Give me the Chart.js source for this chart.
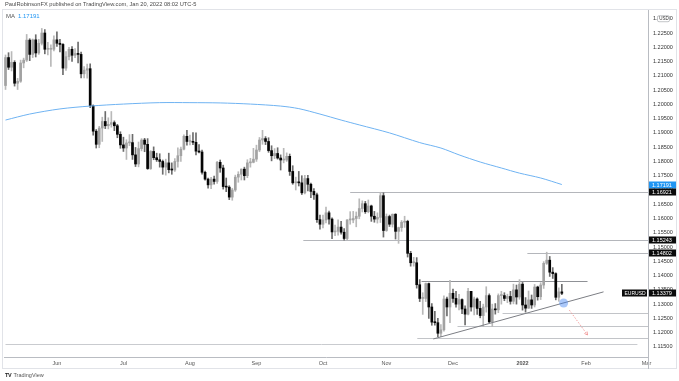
<!DOCTYPE html>
<html><head><meta charset="utf-8">
<script src="https://cdn.jsdelivr.net/npm/chart.js@4.4.0/dist/chart.umd.min.js"></script>
<style>
html,body{margin:0;padding:0;background:#fff;}
#wrap{position:relative;width:679px;height:381px;overflow:hidden;font-family:"Liberation Sans",Arial,sans-serif;}
#c{position:absolute;left:0;top:0;}
.t{position:absolute;white-space:nowrap;line-height:1;}
#hdr{left:5px;top:2px;font-size:5.7px;color:#4a4a4a;}
#leg{left:6px;top:13px;font-size:6px;color:#555;}
#leg b{font-weight:normal;color:#2196f3;margin-left:3px;}
#logo{left:5px;top:373px;font-size:5.5px;color:#555;}
#logo b{font-weight:bold;color:#222;margin-right:2px;letter-spacing:-0.3px;}
</style></head>
<body><div id="wrap">
<canvas id="c" width="679" height="381"></canvas>
<div class="t" id="hdr">PaulRobinsonFX published on TradingView.com, Jan 20, 2022 08:02 UTC-5</div>
<div class="t" id="leg">MA<b>1.17191</b></div>
<div class="t" id="logo"><b>TV</b>TradingView</div>
</div>
<script>
// ---- data (EURUSD daily, May 7 2021 - Jan 20 2022) ----
const opens = [1.2066,1.2164,1.2130,1.2147,1.2074,1.2081,1.2145,1.2155,1.2225,1.2175,1.2226,1.2180,1.2214,1.2250,1.2193,1.2193,1.2193,1.2226,1.2214,1.2210,1.2127,1.2167,1.2193,1.2172,1.2178,1.2175,1.2107,1.2120,1.2125,1.1995,1.1906,1.1860,1.1917,1.1940,1.1925,1.1930,1.1936,1.1925,1.1895,1.1858,1.1847,1.1865,1.1866,1.1823,1.1791,1.1845,1.1875,1.1860,1.1775,1.1835,1.1813,1.1806,1.1800,1.1780,1.1795,1.1771,1.1770,1.1800,1.1820,1.1843,1.1888,1.1870,1.1870,1.1867,1.1836,1.1833,1.1762,1.1738,1.1718,1.1738,1.1730,1.1797,1.1777,1.1712,1.1710,1.1675,1.1700,1.1745,1.1755,1.1773,1.1750,1.1795,1.1797,1.1808,1.1840,1.1875,1.1880,1.1870,1.1838,1.1820,1.1828,1.1812,1.1805,1.1805,1.1818,1.1765,1.1725,1.1727,1.1725,1.1690,1.1740,1.1720,1.1695,1.1683,1.1596,1.1580,1.1595,1.1620,1.1598,1.1553,1.1555,1.1570,1.1552,1.1530,1.1595,1.1595,1.1600,1.1608,1.1635,1.1652,1.1624,1.1644,1.1608,1.1598,1.1604,1.1680,1.1558,1.1607,1.1580,1.1615,1.1555,1.1568,1.1587,1.1590,1.1478,1.1445,1.1445,1.1368,1.1320,1.1320,1.1372,1.1290,1.1237,1.1235,1.1198,1.1210,1.1318,1.1290,1.1338,1.1320,1.1300,1.1316,1.1283,1.1265,1.1345,1.1290,1.1318,1.1285,1.1260,1.1290,1.1330,1.1238,1.1283,1.1280,1.1330,1.1330,1.1320,1.1327,1.1310,1.1350,1.1325,1.1370,1.1297,1.1286,1.1315,1.1297,1.1360,1.1326,1.1367,1.1443,1.1454,1.1412,1.1407,1.1324,1.1343];
const highs = [1.2173,1.2181,1.2185,1.2153,1.2091,1.2155,1.2162,1.2245,1.2230,1.2229,1.2244,1.2228,1.2266,1.2262,1.2217,1.2209,1.2240,1.2254,1.2228,1.2213,1.2185,1.2200,1.2202,1.2195,1.2218,1.2183,1.2132,1.2141,1.2142,1.1998,1.1912,1.1923,1.1955,1.1975,1.1953,1.1975,1.1942,1.1930,1.1904,1.1885,1.1876,1.1894,1.1895,1.1849,1.1868,1.1880,1.1881,1.1880,1.1838,1.1851,1.1829,1.1827,1.1805,1.1808,1.1829,1.1795,1.1810,1.1848,1.1850,1.1893,1.1909,1.1892,1.1901,1.1900,1.1859,1.1840,1.1766,1.1742,1.1744,1.1749,1.1800,1.1805,1.1787,1.1742,1.1715,1.1706,1.1752,1.1764,1.1774,1.1780,1.1806,1.1811,1.1846,1.1857,1.1884,1.1909,1.1887,1.1883,1.1855,1.1845,1.1848,1.1823,1.1846,1.1830,1.1826,1.1785,1.1745,1.1765,1.1750,1.1751,1.1751,1.1724,1.1705,1.1689,1.1612,1.1612,1.1640,1.1626,1.1602,1.1577,1.1595,1.1590,1.1565,1.1596,1.1624,1.1625,1.1623,1.1669,1.1662,1.1660,1.1665,1.1647,1.1625,1.1620,1.1692,1.1690,1.1616,1.1612,1.1616,1.1617,1.1570,1.1593,1.1608,1.1594,1.1485,1.1464,1.1463,1.1386,1.1340,1.1374,1.1374,1.1302,1.1275,1.1250,1.1228,1.1329,1.1325,1.1383,1.1353,1.1345,1.1334,1.1319,1.1294,1.1355,1.1345,1.1325,1.1322,1.1310,1.1300,1.1361,1.1336,1.1300,1.1302,1.1336,1.1345,1.1340,1.1335,1.1345,1.1370,1.1367,1.1386,1.1376,1.1323,1.1346,1.1332,1.1369,1.1363,1.1375,1.1449,1.1482,1.1467,1.1428,1.1410,1.1357,1.1369];
const lows = [1.2052,1.2122,1.2117,1.2064,1.2052,1.2077,1.2128,1.2150,1.2153,1.2164,1.2166,1.2175,1.2208,1.2177,1.2173,1.2133,1.2187,1.2203,1.2184,1.2104,1.2119,1.2156,1.2150,1.2164,1.2145,1.2093,1.2093,1.2092,1.1988,1.1892,1.1847,1.1848,1.1870,1.1915,1.1914,1.1920,1.1908,1.1883,1.1846,1.1835,1.1807,1.1855,1.1807,1.1782,1.1781,1.1837,1.1834,1.1772,1.1772,1.1806,1.1800,1.1780,1.1755,1.1752,1.1760,1.1755,1.1765,1.1780,1.1800,1.1840,1.1857,1.1858,1.1859,1.1823,1.1830,1.1755,1.1734,1.1706,1.1705,1.1720,1.1723,1.1762,1.1703,1.1694,1.1666,1.1664,1.1695,1.1727,1.1735,1.1735,1.1743,1.1780,1.1795,1.1800,1.1834,1.1860,1.1859,1.1832,1.1802,1.1810,1.1808,1.1770,1.1795,1.1800,1.1751,1.1720,1.1700,1.1714,1.1684,1.1686,1.1697,1.1673,1.1667,1.1586,1.1563,1.1567,1.1585,1.1580,1.1529,1.1540,1.1542,1.1545,1.1524,1.1525,1.1580,1.1585,1.1571,1.1599,1.1623,1.1618,1.1620,1.1590,1.1587,1.1584,1.1586,1.1535,1.1555,1.1572,1.1570,1.1528,1.1513,1.1555,1.1569,1.1465,1.1433,1.1433,1.1356,1.1309,1.1264,1.1309,1.1250,1.1226,1.1226,1.1186,1.1186,1.1205,1.1259,1.1235,1.1306,1.1289,1.1280,1.1267,1.1227,1.1262,1.1275,1.1262,1.1264,1.1252,1.1222,1.1272,1.1235,1.1222,1.1265,1.1270,1.1300,1.1312,1.1305,1.1300,1.1301,1.1300,1.1317,1.1279,1.1272,1.1285,1.1285,1.1290,1.1314,1.1316,1.1355,1.1439,1.1397,1.1390,1.1315,1.1310,1.1333];
const closes = [1.2164,1.2130,1.2147,1.2074,1.2081,1.2145,1.2155,1.2225,1.2175,1.2226,1.2180,1.2214,1.2250,1.2193,1.2193,1.2193,1.2226,1.2214,1.2210,1.2127,1.2167,1.2193,1.2172,1.2178,1.2175,1.2107,1.2120,1.2125,1.1995,1.1906,1.1860,1.1917,1.1940,1.1925,1.1930,1.1936,1.1925,1.1895,1.1858,1.1847,1.1865,1.1866,1.1823,1.1791,1.1845,1.1875,1.1860,1.1775,1.1835,1.1813,1.1806,1.1800,1.1780,1.1795,1.1771,1.1770,1.1800,1.1820,1.1843,1.1888,1.1870,1.1870,1.1867,1.1836,1.1833,1.1762,1.1738,1.1718,1.1738,1.1730,1.1797,1.1777,1.1712,1.1710,1.1675,1.1700,1.1745,1.1755,1.1773,1.1750,1.1795,1.1797,1.1808,1.1840,1.1875,1.1880,1.1870,1.1838,1.1820,1.1828,1.1812,1.1805,1.1805,1.1818,1.1765,1.1725,1.1727,1.1725,1.1690,1.1740,1.1720,1.1695,1.1683,1.1596,1.1580,1.1595,1.1620,1.1598,1.1553,1.1555,1.1570,1.1552,1.1530,1.1595,1.1595,1.1600,1.1608,1.1635,1.1652,1.1624,1.1644,1.1608,1.1598,1.1604,1.1680,1.1558,1.1607,1.1580,1.1615,1.1555,1.1568,1.1587,1.1590,1.1478,1.1445,1.1445,1.1368,1.1320,1.1320,1.1372,1.1290,1.1237,1.1235,1.1198,1.1210,1.1318,1.1290,1.1338,1.1320,1.1300,1.1316,1.1283,1.1265,1.1345,1.1290,1.1318,1.1285,1.1260,1.1290,1.1330,1.1238,1.1283,1.1280,1.1330,1.1330,1.1320,1.1327,1.1310,1.1350,1.1325,1.1370,1.1297,1.1286,1.1315,1.1297,1.1360,1.1326,1.1367,1.1443,1.1454,1.1412,1.1407,1.1324,1.1343,1.1338];

// 200-day moving average, read at selected sessions
const maIdx = [0,8,18,28,39,51,61,71,81,91,97,104,111,117,127,137,144,150,157,164,170,177,184];
const maVal = [1.1945,1.1966,1.1984,1.1994,1.2001,1.2006,1.2006,1.2005,1.2001,1.1994,1.1985,1.1966,1.1945,1.1928,1.1900,1.1866,1.1847,1.1823,1.1798,1.1777,1.1759,1.1742,1.17191];

// axis
const sessionCount = 213;           // trading days May 7 2021 .. Mar 1 2022
const monthTickIdx = [17,39,61,83,105,126,148,171,192,212];
const monthTickText = ['Jun','Jul','Aug','Sep','Oct','Nov','Dec','2022','Feb','Mar'];
const priceTicks = [1.115,1.12,1.125,1.13,1.135,1.14,1.145,1.15,1.155,1.16,1.165,1.17,1.175,1.18,1.185,1.19,1.195,1.20,1.205,1.21,1.215,1.22,1.225,1.23];

// drawings (data coordinates: session index, price)
const levelPrice = [1.16921,1.15243,1.14802,1.1381,1.1269,1.1223,1.1180,1.1160];
const levelFrom  = [114,98.5,172.6,137.6,164.4,149.5,136.2,0];
const levelTo    = [null,null,null,192.5,null,null,null,209];
const trendStart = [141.5,1.1178], trendEnd = [197.8,1.1343];
const circlePt = [184.6,1.1304];
const arrowStart = [186.5,1.1279], arrowEnd = [192.5,1.1192];
const axisMarkPrice = [1.17191,1.16921,1.15243,1.14802,1.13379];

// ---- build ----
const labels = [];
{ let d = new Date(Date.UTC(2021,4,7));
  while (labels.length < sessionCount) {
    const wd = d.getUTCDay();
    if (wd !== 0 && wd !== 6) labels.push(d.toISOString().slice(0,10));
    d.setUTCDate(d.getUTCDate()+1);
  } }
const tickMap = {}; monthTickIdx.forEach((i,k)=>tickMap[i]=monthTickText[k]);
const body = labels.map((_,i)=> i<closes.length ? [opens[i],closes[i]] : null);
const wick = labels.map((_,i)=> i<closes.length ? [lows[i],highs[i]] : null);
const up = i => closes[i] >= opens[i];
const ma = labels.map(()=>null); maIdx.forEach((i,k)=>ma[i]=maVal[k]);

const FONT = '"Liberation Sans", Arial, sans-serif';
const levelColor = ['#b4b6bb','#b4b6bb','#b4b6bb','#8f9196','#c2c4c8','#c2c4c8','#c2c4c8','#c9cbcf'];

const decor = {
  id:'decor',
  beforeDatasetsDraw(chart){
    const {ctx, chartArea:a, scales:{x,y}} = chart;
    ctx.save();
    ctx.beginPath(); ctx.rect(a.left,a.top,a.right-a.left,a.bottom-a.top); ctx.clip();
    levelPrice.forEach((p,k)=>{
      const x0 = x.getPixelForValue(levelFrom[k]);
      const x1 = levelTo[k]==null ? a.right : x.getPixelForValue(levelTo[k]);
      const py = Math.round(y.getPixelForValue(p))+0.5;
      ctx.strokeStyle = levelColor[k]; ctx.lineWidth = 1;
      ctx.beginPath(); ctx.moveTo(x0,py); ctx.lineTo(x1,py); ctx.stroke();
    });
    ctx.restore();
  },
  afterDatasetsDraw(chart){
    const {ctx, chartArea:a, scales:{x,y}} = chart;
    ctx.save();
    ctx.beginPath(); ctx.rect(a.left,a.top,a.right-a.left,a.bottom-a.top); ctx.clip();
    ctx.strokeStyle = '#7c7e84'; ctx.lineWidth = 1;
    ctx.beginPath();
    ctx.moveTo(x.getPixelForValue(trendStart[0]), y.getPixelForValue(trendStart[1]));
    ctx.lineTo(x.getPixelForValue(trendEnd[0]), y.getPixelForValue(trendEnd[1]));
    ctx.stroke();
    ctx.fillStyle = 'rgba(66,133,244,0.45)';
    ctx.beginPath();
    ctx.arc(x.getPixelForValue(circlePt[0]), y.getPixelForValue(circlePt[1]), 4.5, 0, Math.PI*2);
    ctx.fill();
    const ax0 = x.getPixelForValue(arrowStart[0]), ay0 = y.getPixelForValue(arrowStart[1]);
    const ax1 = x.getPixelForValue(arrowEnd[0]), ay1 = y.getPixelForValue(arrowEnd[1]);
    ctx.strokeStyle = '#f08a8a'; ctx.lineWidth = 0.8; ctx.setLineDash([1.5,1.5]);
    ctx.beginPath(); ctx.moveTo(ax0,ay0); ctx.lineTo(ax1,ay1); ctx.stroke();
    ctx.setLineDash([]);
    const ang = Math.atan2(ay1-ay0, ax1-ax0);
    ctx.beginPath();
    ctx.moveTo(ax1-3.5*Math.cos(ang-0.5), ay1-3.5*Math.sin(ang-0.5));
    ctx.lineTo(ax1,ay1);
    ctx.lineTo(ax1-3.5*Math.cos(ang+0.5), ay1-3.5*Math.sin(ang+0.5));
    ctx.stroke();
    ctx.restore();
  },
  afterDraw(chart){
    const {ctx, chartArea:a, scales:{y}} = chart;
    ctx.save();
    ctx.strokeStyle = '#e1e3e8'; ctx.lineWidth = 1;
    ctx.strokeRect(2.5, 9.5, 674, 359);
    ctx.strokeStyle = '#b9bcc2';
    ctx.beginPath(); ctx.moveTo(a.right+0.5, a.top); ctx.lineTo(a.right+0.5, 369); ctx.stroke();
    ctx.font = '5.5px '+FONT; ctx.textBaseline = 'middle'; ctx.textAlign = 'left';
    axisMarkPrice.forEach((p,k)=>{
      const py = Math.round(y.getPixelForValue(p));
      ctx.fillStyle = k===0 ? '#2196f3' : '#0b0b0b';
      ctx.fillRect(a.right+1, py-3.5, 27, 7);
      ctx.fillStyle = '#fff';
      ctx.fillText(p.toFixed(5), a.right+4, py+0.3);
    });
    const py = Math.round(y.getPixelForValue(axisMarkPrice[4]));
    ctx.fillStyle = '#0b0b0b'; ctx.fillRect(a.right-26, py-3.5, 25, 7);
    ctx.fillStyle = '#fff'; ctx.font = '5px '+FONT; ctx.fillText('EURUSD', a.right-23.5, py+0.3);
    const by = y.getPixelForValue(1.23);
    ctx.fillStyle = '#fff'; ctx.strokeStyle = '#9a9da3'; ctx.lineWidth = 0.6;
    ctx.beginPath(); ctx.roundRect(a.right+9.5, by-3, 12, 6, 1.5); ctx.fill(); ctx.stroke();
    ctx.fillStyle = '#333'; ctx.font = '4.5px '+FONT;
    ctx.fillText('USD', a.right+11.2, by+0.2);
    ctx.restore();
  }
};

new Chart(document.getElementById('c'), {
  data: {
    labels,
    datasets: [
      { type:'line', label:'MA', data: ma, spanGaps:true, borderColor:'#6fb3f2', borderWidth:1,
        pointRadius:0, tension:0.3, order:0 },
      { type:'bar', label:'body', data: body, grouped:false, barThickness:2, minBarLength:1,
        backgroundColor: ctx => up(ctx.dataIndex) ? '#a2a2a2' : '#050505', borderWidth:0, order:1 },
      { type:'bar', label:'wick', data: wick, grouped:false, barThickness:1,
        backgroundColor: ctx => up(ctx.dataIndex) ? '#b9b9b9' : '#6c6c6c', borderWidth:0, order:2 }
    ]
  },
  options: {
    responsive:false, animation:false, events:[],
    layout:{ padding:{ left:4, top:10, right:0, bottom:0 } },
    plugins:{ legend:{display:false}, tooltip:{enabled:false} },
    scales:{
      x:{ type:'category', offset:true,
        grid:{ display:false, drawTicks:false },
        border:{ display:true, color:'#b9bcc2' },
        ticks:{ autoSkip:false, maxRotation:0, padding:3, color:'#555',
          font: c => ({ size:5.5, family:FONT, weight: (tickMap[c.index]==='2022') ? 'bold' : 'normal' }),
          callback:(v,i)=> tickMap[i] || '' },
        afterFit: s => { s.height = 24; }
      },
      y:{ type:'linear', position:'right', min:1.11148, max:1.23306,
        grid:{ display:false, drawTicks:false },
        border:{ display:false },
        afterBuildTicks: s => { s.ticks = priceTicks.map(v=>({value:v})); },
        ticks:{ padding:5, color:'#333', font:{ size:5.5, family:FONT },
          callback: v => Number(v).toFixed(5) },
        afterFit: s => { s.width = 31; }
      }
    }
  },
  plugins:[decor]
});
</script>
</body></html>
